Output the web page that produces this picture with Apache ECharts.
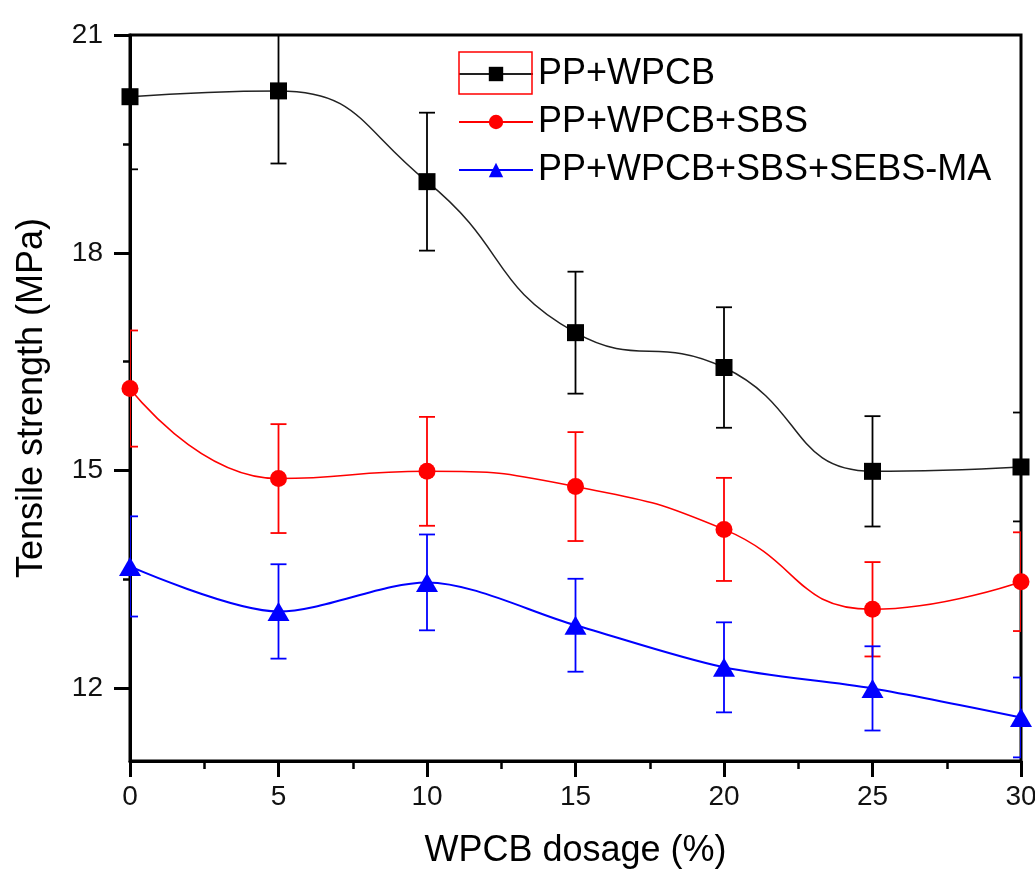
<!DOCTYPE html>
<html>
<head>
<meta charset="utf-8">
<script src="https://cdn.jsdelivr.net/npm/echarts@6/dist/echarts.min.js"></script>
<style>
  html, body { margin: 0; padding: 0; background: #fff; }
  #main { width: 1035px; height: 893px; }
</style>
</head>
<body>
<div id="main"></div>
<script>
// WPCB dosage (%)
var dosage = [0, 5, 10, 15, 20, 25, 30];

// tensile strength (MPa) and error (±)
var ppWpcb = [20.15, 20.23, 18.98, 16.90, 16.42, 14.99, 15.05];
var ppWpcbErr = [1.0, 1.0, 0.95, 0.84, 0.83, 0.76, 0.75];

var ppSbs = [16.13, 14.89, 14.99, 14.78, 14.19, 13.09, 13.47];
var ppSbsErr = [0.80, 0.75, 0.75, 0.75, 0.71, 0.65, 0.68];

var ppSebs = [13.68, 13.06, 13.46, 12.87, 12.29, 12.00, 11.60];
var ppSebsErr = [0.69, 0.65, 0.66, 0.64, 0.62, 0.58, 0.55];

var seriesNames = ['PP+WPCB', 'PP+WPCB+SBS', 'PP+WPCB+SBS+SEBS-MA'];

var yMajor = [12, 15, 18, 21];
var yMinor = [13.5, 16.5, 19.5];

var font = 'Liberation Sans, Arial, sans-serif';

function pairs(vals) {
    return dosage.map(function (x, i) { return [x, vals[i]]; });
}

function errData(vals, errs) {
    return dosage.map(function (x, i) { return [x, vals[i], errs[i]]; });
}

function errRender(color) {
    return function (params, api) {
        var x = api.value(0), y = api.value(1), e = api.value(2);
        var top = api.coord([x, y + e]);
        var bot = api.coord([x, y - e]);
        var hw = 8;
        var st = { stroke: color, lineWidth: 1.8 };
        return {
            type: 'group',
            children: [
                { type: 'line', shape: { x1: top[0], y1: top[1], x2: bot[0], y2: bot[1] }, style: st },
                { type: 'line', shape: { x1: top[0] - hw, y1: top[1], x2: top[0] + hw, y2: top[1] }, style: st },
                { type: 'line', shape: { x1: bot[0] - hw, y1: bot[1], x2: bot[0] + hw, y2: bot[1] }, style: st }
            ]
        };
    };
}

var myChart = echarts.init(document.getElementById('main'));
var option = {
    backgroundColor: '#fff',
    animation: false,
    grid: {
        left: 130, right: 14, top: 35, bottom: 132,
        outerBoundsMode: 'none',
        show: true, borderColor: '#000', borderWidth: 3
    },
    legend: {
        data: seriesNames,
        orient: 'vertical',
        left: 458,
        top: 56,
        padding: 0,
        itemWidth: 74,
        itemHeight: 18,
        itemGap: 12,
        textStyle: { fontSize: 36, lineHeight: 36, color: '#000', fontFamily: font }
    },
    graphic: [{
        type: 'rect',
        shape: { x: 459, y: 52, width: 73, height: 42 },
        style: { fill: 'none', stroke: '#ff0000', lineWidth: 1.5 },
        z: 100
    }],
    xAxis: {
        type: 'value',
        min: 0, max: 30, interval: 5,
        name: 'WPCB dosage (%)',
        nameLocation: 'middle',
        nameGap: 72,
        nameTextStyle: { fontSize: 36, color: '#000', fontFamily: font },
        axisLine: { lineStyle: { color: '#000', width: 3 } },
        axisTick: { length: 16, lineStyle: { color: '#000', width: 3 } },
        minorTick: { show: true, splitNumber: 2, length: 8, lineStyle: { color: '#000', width: 2.5 } },
        axisLabel: { fontSize: 28, color: '#111', margin: 22, fontFamily: font },
        splitLine: { show: false }
    },
    yAxis: [{
        type: 'value',
        min: 11, max: 21,
        name: 'Tensile strength (MPa)',
        nameLocation: 'middle',
        nameGap: 80,
        nameTextStyle: { fontSize: 36, color: '#000', fontFamily: font },
        axisLine: { lineStyle: { color: '#000', width: 3 } },
        axisTick: { customValues: yMajor, length: 16, lineStyle: { color: '#000', width: 3 } },
        axisLabel: { customValues: yMajor, fontSize: 28, color: '#111', margin: 27, fontFamily: font },
        splitLine: { show: false }
    }, {
        type: 'value',
        min: 11, max: 21,
        position: 'left',
        axisLine: { show: false },
        axisTick: { customValues: yMinor, length: 7, lineStyle: { color: '#000', width: 2.5 } },
        axisLabel: { show: false },
        splitLine: { show: false }
    }],
    series: [
        {
            type: 'custom', name: 'errA', clip: true, z: 1,
            renderItem: errRender('#000'),
            data: errData(ppWpcb, ppWpcbErr)
        },
        {
            type: 'custom', name: 'errB', clip: true, z: 1,
            renderItem: errRender('#ff0000'),
            data: errData(ppSbs, ppSbsErr)
        },
        {
            type: 'custom', name: 'errC', clip: true, z: 1,
            renderItem: errRender('#0000ff'),
            data: errData(ppSebs, ppSebsErr)
        },
        {
            type: 'line', name: seriesNames[0], z: 3,
            data: pairs(ppWpcb),
            smooth: 0.5,
            symbol: 'rect', symbolSize: 17,
            itemStyle: { color: '#000' },
            lineStyle: { color: '#222', width: 1.5 }
        },
        {
            type: 'line', name: seriesNames[1], z: 3,
            data: pairs(ppSbs),
            smooth: 0.5,
            symbol: 'circle', symbolSize: 17,
            itemStyle: { color: '#ff0000' },
            lineStyle: { color: '#ff0000', width: 1.5 }
        },
        {
            type: 'line', name: seriesNames[2], z: 3,
            data: pairs(ppSebs),
            smooth: 0.3,
            symbol: 'triangle', symbolSize: [22, 19],
            itemStyle: { color: '#0000ff' },
            lineStyle: { color: '#0000ff', width: 2 }
        }
    ]
};
myChart.setOption(option);
</script>
</body>
</html>
